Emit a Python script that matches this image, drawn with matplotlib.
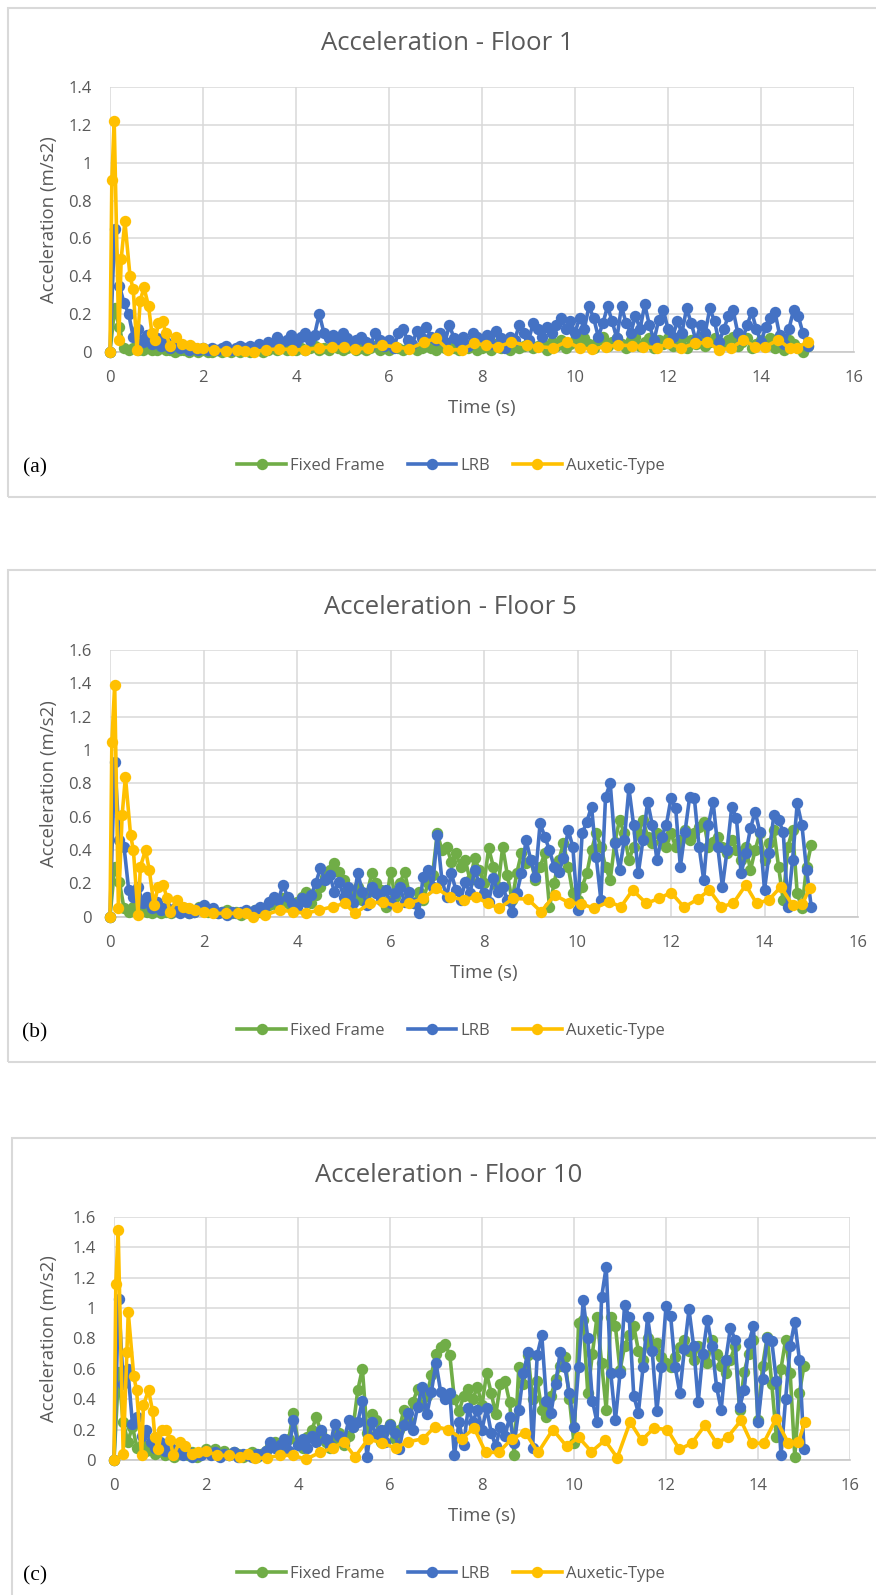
import numpy as np
import matplotlib
matplotlib.use('Agg')
import matplotlib.pyplot as plt
from matplotlib.patches import Rectangle
from matplotlib.lines import Line2D

# fonts (Excel-like sans serif)
plt.rcParams['font.family'] = ['Open Sans', 'DejaVu Sans']

# ---------------- data ----------------
# common time axis for Fixed Frame / LRB records (s)
t_grid = np.round(np.arange(0, 15.05, 0.1), 1)

# Floor 1
ff_1 = [0.0, 0.23, 0.13, 0.02, 0.01, 0.02, 0.01, 0.01, 0.02, 0.01,
        0.01, 0.02, 0.01, 0.01, 0.00, 0.01, 0.01, 0.00, 0.01, 0.00,
        0.01, 0.00, 0.00, 0.01, 0.00, 0.01, 0.00, 0.01, 0.00, 0.01,
        0.00, 0.01, 0.01, 0.00, 0.01, 0.02, 0.01, 0.02, 0.01, 0.02,
        0.01, 0.02, 0.01, 0.02, 0.03, 0.01, 0.02, 0.01, 0.03, 0.02,
        0.01, 0.02, 0.03, 0.01, 0.02, 0.01, 0.02, 0.03, 0.01, 0.02,
        0.01, 0.03, 0.02, 0.01, 0.02, 0.03, 0.01, 0.02, 0.03, 0.02,
        0.01, 0.03, 0.02, 0.04, 0.02, 0.01, 0.03, 0.02, 0.04, 0.01,
        0.02, 0.03, 0.01, 0.04, 0.02, 0.03, 0.01, 0.04, 0.02, 0.03,
        0.05, 0.02, 0.03, 0.04, 0.01, 0.05, 0.03, 0.06, 0.02, 0.04,
        0.06, 0.03, 0.07, 0.04, 0.02, 0.06, 0.08, 0.03, 0.05, 0.07,
        0.04, 0.02, 0.06, 0.08, 0.03, 0.05, 0.07, 0.02, 0.06, 0.04,
        0.07, 0.03, 0.05, 0.08, 0.02, 0.06, 0.04, 0.07, 0.03, 0.05,
        0.07, 0.02, 0.04, 0.06, 0.08, 0.03, 0.05, 0.07, 0.02, 0.04,
        0.06, 0.03, 0.07, 0.02, 0.05, 0.01, 0.06, 0.04, 0.02, 0.00,
        0.03]
lrb_1 = [0.0, 0.65, 0.35, 0.26, 0.20, 0.08, 0.12, 0.05, 0.09, 0.04,
         0.07, 0.03, 0.05, 0.02, 0.04, 0.02, 0.03, 0.01, 0.02, 0.01,
         0.02, 0.01, 0.02, 0.01, 0.02, 0.03, 0.01, 0.02, 0.03, 0.02,
         0.03, 0.02, 0.04, 0.03, 0.05, 0.04, 0.08, 0.05, 0.06, 0.09,
         0.05, 0.08, 0.10, 0.06, 0.09, 0.20, 0.10, 0.07, 0.09, 0.05,
         0.10, 0.07, 0.04, 0.06, 0.08, 0.05, 0.03, 0.10, 0.06, 0.03,
         0.06, 0.02, 0.10, 0.12, 0.06, 0.04, 0.11, 0.07, 0.13, 0.08,
         0.06, 0.10, 0.05, 0.14, 0.07, 0.05, 0.08, 0.03, 0.10, 0.08,
         0.06, 0.09, 0.04, 0.11, 0.07, 0.02, 0.08, 0.06, 0.14, 0.10,
         0.06, 0.15, 0.12, 0.08, 0.13, 0.10, 0.14, 0.18, 0.12, 0.16,
         0.10, 0.18, 0.12, 0.24, 0.18, 0.08, 0.15, 0.24, 0.16, 0.07,
         0.24, 0.15, 0.10, 0.19, 0.12, 0.25, 0.14, 0.06, 0.17, 0.22,
         0.12, 0.08, 0.16, 0.10, 0.23, 0.15, 0.06, 0.14, 0.10, 0.23,
         0.16, 0.05, 0.12, 0.19, 0.22, 0.10, 0.06, 0.14, 0.21, 0.12,
         0.05, 0.13, 0.18, 0.21, 0.09, 0.04, 0.12, 0.22, 0.19, 0.10,
         0.03]
aux_t_1 = [0, 0.04, 0.09, 0.19, 0.24, 0.32, 0.43, 0.50, 0.58, 0.65,
           0.73, 0.83, 0.90, 0.97, 1.04, 1.13, 1.20, 1.29, 1.42, 1.55,
           1.73, 1.87, 2.01, 2.23, 2.50, 2.73, 2.91, 3.09, 3.35, 3.63,
           3.92, 4.19, 4.50, 4.78, 5.04, 5.27, 5.54, 5.86, 6.15, 6.44,
           6.75, 7.01, 7.27, 7.56, 7.83, 8.08, 8.35, 8.63, 8.96, 9.21,
           9.53, 9.82, 10.10, 10.36, 10.67, 10.93, 11.22, 11.47, 11.76, 12.01,
           12.29, 12.58, 12.84, 13.10, 13.35, 13.62, 13.87, 14.09, 14.37, 14.62,
           14.77, 15.00]
aux_1 = [0, 0.91, 1.22, 0.06, 0.49, 0.69, 0.40, 0.33, 0.01, 0.27,
         0.34, 0.24, 0.10, 0.06, 0.15, 0.16, 0.10, 0.03, 0.08, 0.04,
         0.035, 0.02, 0.02, 0.01, 0.005, 0.01, 0.005, 0.0, 0.01, 0.015,
         0.01, 0.01, 0.02, 0.025, 0.025, 0.012, 0.02, 0.035, 0.025, 0.015,
         0.05, 0.07, 0.01, 0.01, 0.045, 0.035, 0.027, 0.05, 0.035, 0.027,
         0.02, 0.053, 0.02, 0.014, 0.027, 0.035, 0.032, 0.027, 0.02, 0.044,
         0.02, 0.044, 0.05, 0.01, 0.018, 0.062, 0.027, 0.027, 0.062, 0.018,
         0.018, 0.053]

# Floor 5
ff_5 = [0.0, 0.30, 0.21, 0.05, 0.03, 0.06, 0.02, 0.04, 0.03, 0.02,
        0.04, 0.02, 0.03, 0.02, 0.04, 0.03, 0.05, 0.02, 0.03, 0.06,
        0.05, 0.03, 0.04, 0.02, 0.03, 0.04, 0.02, 0.03, 0.01, 0.03,
        0.02, 0.04, 0.03, 0.05, 0.07, 0.09, 0.06, 0.11, 0.08, 0.05,
        0.09, 0.12, 0.15, 0.08, 0.13, 0.18, 0.24, 0.28, 0.32, 0.27,
        0.22, 0.16, 0.12, 0.18, 0.10, 0.14, 0.26, 0.20, 0.16, 0.06,
        0.27, 0.12, 0.20, 0.27, 0.14, 0.08, 0.15, 0.10, 0.20, 0.25,
        0.50, 0.40, 0.42, 0.33, 0.38, 0.30, 0.34, 0.22, 0.35, 0.28,
        0.20, 0.41, 0.30, 0.18, 0.42, 0.25, 0.10, 0.26, 0.38, 0.32,
        0.34, 0.22, 0.30, 0.38, 0.06, 0.20, 0.34, 0.44, 0.30, 0.14,
        0.10, 0.18, 0.26, 0.40, 0.50, 0.42, 0.30, 0.22, 0.45, 0.58,
        0.50, 0.34, 0.42, 0.50, 0.58, 0.48, 0.44, 0.50, 0.46, 0.42,
        0.50, 0.42, 0.46, 0.52, 0.46, 0.50, 0.54, 0.57, 0.42, 0.45,
        0.48, 0.42, 0.38, 0.46, 0.40, 0.34, 0.42, 0.28, 0.40, 0.50,
        0.34, 0.44, 0.52, 0.30, 0.10, 0.42, 0.52, 0.14, 0.05, 0.30,
        0.43]
lrb_5 = [0.0, 0.93, 0.46, 0.42, 0.16, 0.12, 0.18, 0.08, 0.12, 0.05,
         0.09, 0.04, 0.06, 0.03, 0.05, 0.02, 0.04, 0.02, 0.03, 0.05,
         0.07, 0.04, 0.05, 0.02, 0.03, 0.01, 0.03, 0.02, 0.03, 0.04,
         0.02, 0.04, 0.06, 0.05, 0.09, 0.12, 0.10, 0.19, 0.12, 0.08,
         0.06, 0.11, 0.09, 0.13, 0.20, 0.29, 0.22, 0.25, 0.15, 0.21,
         0.12, 0.18, 0.08, 0.26, 0.15, 0.07, 0.18, 0.14, 0.10, 0.16,
         0.08, 0.14, 0.18, 0.09, 0.15, 0.08, 0.02, 0.24, 0.28, 0.18,
         0.49, 0.22, 0.12, 0.26, 0.16, 0.10, 0.21, 0.14, 0.28, 0.20,
         0.14, 0.09, 0.23, 0.15, 0.18, 0.10, 0.03, 0.14, 0.26, 0.46,
         0.34, 0.24, 0.56, 0.48, 0.40, 0.30, 0.27, 0.35, 0.52, 0.42,
         0.04, 0.50, 0.57, 0.66, 0.36, 0.10, 0.72, 0.80, 0.44, 0.28,
         0.46, 0.77, 0.55, 0.26, 0.46, 0.69, 0.55, 0.34, 0.48, 0.55,
         0.71, 0.65, 0.30, 0.51, 0.72, 0.71, 0.42, 0.22, 0.55, 0.69,
         0.42, 0.18, 0.40, 0.66, 0.59, 0.26, 0.38, 0.53, 0.63, 0.51,
         0.16, 0.38, 0.61, 0.58, 0.51, 0.06, 0.34, 0.68, 0.55, 0.28,
         0.06]
aux_t_5 = [0, 0.04, 0.10, 0.18, 0.26, 0.33, 0.44, 0.50, 0.60, 0.65,
           0.76, 0.84, 0.94, 1.03, 1.14, 1.22, 1.28, 1.44, 1.57, 1.70,
           1.82, 2.00, 2.20, 2.49, 2.74, 2.90, 3.06, 3.31, 3.63, 3.92,
           4.19, 4.47, 4.77, 5.02, 5.24, 5.56, 5.84, 6.13, 6.40, 6.70,
           6.98, 7.27, 7.57, 7.82, 8.08, 8.33, 8.62, 8.94, 9.22, 9.51,
           9.81, 10.08, 10.36, 10.67, 10.93, 11.18, 11.47, 11.75, 12.00, 12.28,
           12.57, 12.82, 13.08, 13.33, 13.60, 13.83, 14.09, 14.35, 14.60, 14.81,
           14.97]
aux_5 = [0, 1.05, 1.39, 0.05, 0.61, 0.84, 0.49, 0.40, 0.01, 0.30,
         0.40, 0.28, 0.07, 0.18, 0.19, 0.11, 0.03, 0.10, 0.06, 0.05,
         0.04, 0.03, 0.02, 0.02, 0.02, 0.02, 0.0, 0.01, 0.04, 0.03,
         0.02, 0.04, 0.06, 0.08, 0.02, 0.08, 0.09, 0.06, 0.08, 0.11,
         0.17, 0.12, 0.10, 0.12, 0.08, 0.05, 0.11, 0.105, 0.03, 0.13,
         0.085, 0.077, 0.05, 0.09, 0.06, 0.16, 0.08, 0.11, 0.145, 0.057,
         0.105, 0.16, 0.06, 0.08, 0.19, 0.08, 0.10, 0.18, 0.07, 0.075,
         0.175]

# Floor 10
ff_10 = [0.0, 0.58, 0.25, 0.12, 0.22, 0.08, 0.10, 0.06, 0.08, 0.04,
         0.06, 0.03, 0.05, 0.02, 0.04, 0.06, 0.03, 0.05, 0.02, 0.04,
         0.07, 0.05, 0.07, 0.04, 0.06, 0.03, 0.05, 0.04, 0.02, 0.03,
         0.05, 0.02, 0.04, 0.06, 0.09, 0.12, 0.07, 0.10, 0.14, 0.31,
         0.12, 0.08, 0.15, 0.20, 0.28, 0.18, 0.12, 0.08, 0.14, 0.18,
         0.10, 0.16, 0.22, 0.46, 0.60, 0.18, 0.30, 0.26, 0.12, 0.20,
         0.24, 0.14, 0.20, 0.33, 0.26, 0.38, 0.47, 0.36, 0.42, 0.56,
         0.70, 0.74, 0.76, 0.69, 0.40, 0.32, 0.42, 0.47, 0.40, 0.48,
         0.36, 0.57, 0.44, 0.30, 0.50, 0.52, 0.38, 0.03, 0.61, 0.50,
         0.69, 0.40, 0.52, 0.33, 0.28, 0.42, 0.53, 0.62, 0.68, 0.40,
         0.11, 0.90, 0.92, 0.44, 0.70, 0.94, 0.64, 0.33, 0.94, 0.88,
         0.59, 0.75, 0.82, 0.88, 0.72, 0.66, 0.80, 0.74, 0.77, 0.68,
         0.64, 0.61, 0.68, 0.74, 0.79, 0.72, 0.66, 0.75, 0.70, 0.64,
         0.79, 0.70, 0.62, 0.57, 0.66, 0.75, 0.33, 0.58, 0.70, 0.79,
         0.26, 0.62, 0.81, 0.50, 0.15, 0.60, 0.79, 0.57, 0.02, 0.44,
         0.62]
lrb_10 = [0.0, 1.06, 0.50, 0.60, 0.24, 0.28, 0.16, 0.20, 0.12, 0.08,
          0.12, 0.06, 0.10, 0.04, 0.07, 0.03, 0.05, 0.02, 0.04, 0.03,
          0.06, 0.03, 0.05, 0.02, 0.04, 0.03, 0.05, 0.02, 0.04, 0.03,
          0.02, 0.04, 0.03, 0.06, 0.12, 0.08, 0.10, 0.14, 0.06, 0.26,
          0.10, 0.14, 0.08, 0.16, 0.12, 0.20, 0.14, 0.10, 0.24, 0.16,
          0.12, 0.26, 0.22, 0.25, 0.39, 0.02, 0.25, 0.16, 0.20, 0.12,
          0.23, 0.18, 0.07, 0.23, 0.31, 0.20, 0.35, 0.48, 0.30, 0.45,
          0.64, 0.45, 0.40, 0.44, 0.03, 0.25, 0.10, 0.34, 0.25, 0.33,
          0.20, 0.34, 0.18, 0.09, 0.22, 0.16, 0.28, 0.11, 0.33, 0.57,
          0.71, 0.08, 0.69, 0.82, 0.39, 0.31, 0.50, 0.71, 0.61, 0.44,
          0.22, 0.61, 1.05, 0.80, 0.39, 0.25, 1.07, 1.27, 0.57, 0.26,
          0.57, 1.02, 0.94, 0.42, 0.31, 0.61, 0.94, 0.72, 0.32, 0.61,
          1.01, 0.95, 0.61, 0.44, 0.73, 0.99, 0.75, 0.38, 0.70, 0.92,
          0.75, 0.48, 0.33, 0.66, 0.87, 0.79, 0.35, 0.46, 0.77, 0.88,
          0.25, 0.53, 0.80, 0.78, 0.52, 0.03, 0.40, 0.75, 0.91, 0.66,
          0.07]
aux_t_10 = [0, 0.04, 0.09, 0.20, 0.28, 0.31, 0.43, 0.49, 0.60, 0.64,
            0.75, 0.84, 0.89, 0.96, 1.04, 1.13, 1.22, 1.29, 1.43, 1.54,
            1.69, 1.83, 2.01, 2.23, 2.49, 2.73, 2.92, 3.06, 3.32, 3.61,
            3.90, 4.17, 4.48, 4.77, 4.99, 5.24, 5.53, 5.83, 6.12, 6.40,
            6.72, 6.98, 7.27, 7.56, 7.83, 8.08, 8.36, 8.65, 8.94, 9.22,
            9.54, 9.84, 10.10, 10.38, 10.67, 10.94, 11.22, 11.47, 11.74, 12.03,
            12.29, 12.56, 12.85, 13.10, 13.34, 13.63, 13.86, 14.12, 14.39, 14.66,
            14.88, 15.02]
aux_10 = [0, 1.16, 1.51, 0.04, 0.71, 0.97, 0.55, 0.46, 0.03, 0.36,
          0.46, 0.32, 0.15, 0.07, 0.20, 0.20, 0.13, 0.03, 0.12, 0.09,
          0.04, 0.05, 0.06, 0.03, 0.03, 0.02, 0.04, 0.01, 0.015, 0.03,
          0.03, 0.005, 0.05, 0.08, 0.12, 0.02, 0.14, 0.11, 0.08, 0.12,
          0.14, 0.22, 0.20, 0.14, 0.21, 0.05, 0.05, 0.14, 0.18, 0.05,
          0.20, 0.09, 0.15, 0.055, 0.13, 0.015, 0.25, 0.13, 0.21, 0.20,
          0.07, 0.11, 0.23, 0.11, 0.15, 0.26, 0.11, 0.11, 0.27, 0.11,
          0.12, 0.25]

series_names = ['Fixed Frame', 'LRB', 'Auxetic-Type']
series_colors = ['#70AD47', '#4472C4', '#FFC000']
panel_labels = ['(a)', '(b)', '(c)']
panel_titles = ['Acceleration - Floor 1', 'Acceleration - Floor 5', 'Acceleration - Floor 10']

# ---------------- layout (pixels of the 876x1595 picture) ----------------
W, H = 876, 1595
fig = plt.figure(figsize=(W / 100, H / 100), dpi=100)
txt_col = '#595959'
grid_col = '#D9D9D9'
LW, MS = 2.6, 8.2

# x of 0, x of 16, y of 0, y of ymax, ymax, title centre, panel box (left, top, bottom)
panels = [
    dict(x0=110, x16=854, y0=351.7, ytop=87.3, ymax=1.4, tx=447, ty=43, box=(8, 8, 497),
         ff=ff_1, lrb=lrb_1, aux_t=aux_t_1, aux=aux_1),
    dict(x0=110, x16=858, y0=916.7, ytop=650, ymax=1.6, tx=450, ty=607, box=(8, 570, 1062),
         ff=ff_5, lrb=lrb_5, aux_t=aux_t_5, aux=aux_5),
    dict(x0=114, x16=850, y0=1460, ytop=1216.7, ymax=1.6, tx=449, ty=1175, box=(12, 1138, 1620),
         ff=ff_10, lrb=lrb_10, aux_t=aux_t_10, aux=aux_10),
]

def fx(px):
    return px / W

def fy(py):
    return 1 - py / H

for i, p in enumerate(panels):
    # panel frame
    bl, bt, bb = p['box']
    fig.patches.append(Rectangle((fx(bl), fy(bb)), fx(W + 20 - bl), (bb - bt) / H,
                                 transform=fig.transFigure, fill=False,
                                 edgecolor=grid_col, lw=1.5))

    ax = fig.add_axes([fx(p['x0']), fy(p['y0']), (p['x16'] - p['x0']) / W, (p['y0'] - p['ytop']) / H])
    ax.plot(t_grid, p['ff'], color=series_colors[0], lw=LW, marker='o', ms=MS, mew=0, clip_on=False, zorder=3)
    ax.plot(t_grid, p['lrb'], color=series_colors[1], lw=LW, marker='o', ms=MS, mew=0, clip_on=False, zorder=4)
    ax.plot(p['aux_t'], p['aux'], color=series_colors[2], lw=LW, marker='o', ms=MS, mew=0, clip_on=False, zorder=5)

    ax.set_xlim(0, 16)
    ax.set_ylim(0, p['ymax'])
    ax.set_xticks(np.arange(0, 17, 2))
    yt = np.round(np.arange(0, p['ymax'] + 0.01, 0.2), 1)
    ax.set_yticks(yt)
    ax.set_yticklabels(['{:g}'.format(v) for v in yt])
    ax.tick_params(length=0, pad=13, labelsize=12, labelcolor=txt_col)
    ax.grid(True, color=grid_col, lw=1.1)
    ax.set_axisbelow(True)
    for s in ['top', 'right', 'left']:
        ax.spines[s].set_visible(False)
    ax.spines['bottom'].set_color('#C8C8C8')
    ax.spines['bottom'].set_linewidth(1.2)

    # texts
    mid_x = (p['x0'] + p['x16']) / 2
    mid_y = (p['y0'] + p['ytop']) / 2
    fig.text(fx(p['tx']), fy(p['ty']), panel_titles[i], ha='center', va='center',
             fontsize=18.5, color=txt_col)
    fig.text(fx(mid_x), fy(p['y0'] + 56), 'Time (s)', ha='center', va='center',
             fontsize=13.4, color=txt_col)
    fig.text(fx(49), fy(mid_y), 'Acceleration (m/s2)', ha='center', va='center',
             rotation=90, fontsize=13.4, color=txt_col)
    fig.text(fx(35), fy(p['y0'] + 116), panel_labels[i], ha='center', va='center',
             fontsize=15.5, family='Liberation Serif', color='black')

    # legend
    handles = [Line2D([], [], color=c, lw=LW, marker='o', ms=MS, mew=0) for c in series_colors]
    fig.legend(handles, series_names, loc='center', bbox_to_anchor=(fx(451), fy(p['y0'] + 114)),
               ncol=3, frameon=False, fontsize=12, labelcolor=txt_col, handlelength=2.9,
               handletextpad=0.25, columnspacing=1.4, markerscale=1.0)

fig.savefig('out.png', dpi=100)
